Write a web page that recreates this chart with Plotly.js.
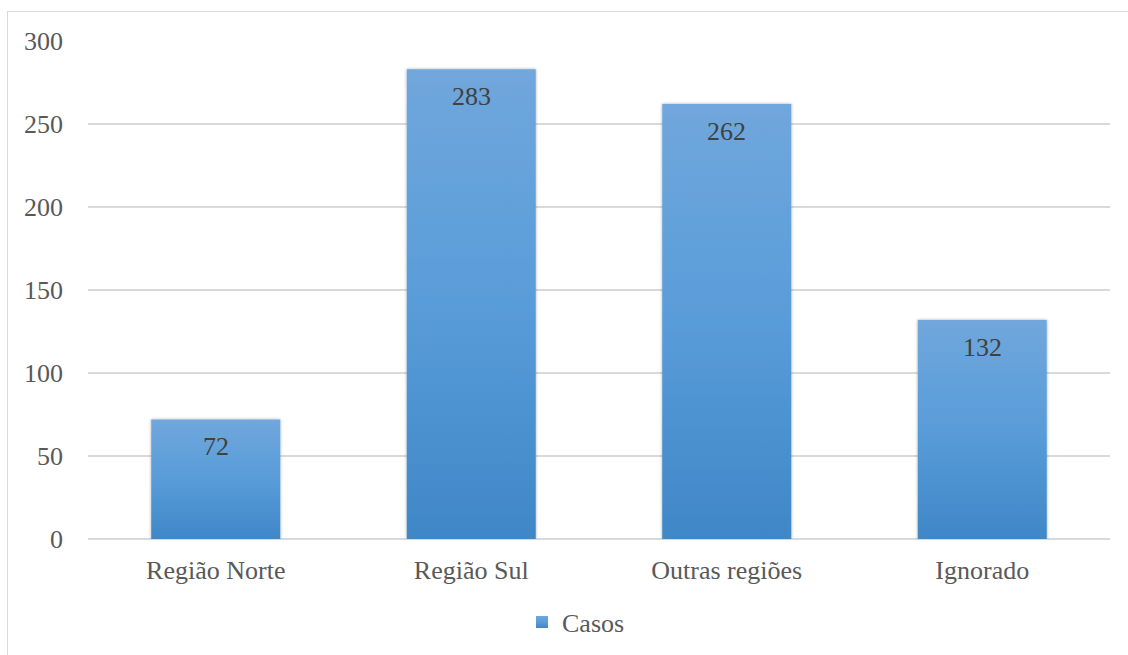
<!DOCTYPE html>
<html>
<head>
<meta charset="utf-8">
<script src="https://cdn.plot.ly/plotly-3.0.1.min.js"></script>
<style>
  html, body { margin: 0; padding: 0; background: #ffffff; overflow: hidden; }
  #frame { position: absolute; left: 7px; top: 11px; width: 1140px; height: 700px; border: 1.5px solid #d9d9d9; box-sizing: border-box; }
  #chart { position: absolute; left: 0; top: 0; width: 1128px; height: 655px; }
</style>
</head>
<body>
<div id="frame"></div>
<div id="chart"></div>
<script>
const categories = ["Região Norte", "Região Sul", "Outras regiões", "Ignorado"];
const casos = [72, 283, 262, 132];
const yTicks = [0, 50, 100, 150, 200, 250, 300];
const seriesName = "Casos";

const fontFamily = "Liberation Serif, Times New Roman, serif";

const trace = {
  type: "bar",
  x: categories,
  y: casos,
  name: seriesName,
  marker: { color: "#5a9bd6", line: { width: 0 } },
  hoverinfo: "x+y",
  showlegend: true
};

const annotations = categories.map((c, i) => ({
  x: c, y: casos[i], xref: "x", yref: "y",
  text: String(casos[i]), showarrow: false,
  yanchor: "top", yshift: -11,
  font: { family: fontFamily, size: 26, color: "#404040" }
}));

const layout = {
  width: 1128, height: 655,
  margin: { l: 88, r: 18, t: 41, b: 116, autoexpand: false },
  paper_bgcolor: "rgba(0,0,0,0)",
  plot_bgcolor: "rgba(0,0,0,0)",
  font: { family: fontFamily, size: 26, color: "#595959" },
  bargap: 0.495,
  xaxis: {
    type: "category", automargin: false,
    showgrid: false, zeroline: false, showline: false, ticks: "",
    ticklabelstandoff: 13,
    tickfont: { family: fontFamily, size: 26, color: "#595959" }
  },
  yaxis: {
    range: [0, 300], tickvals: yTicks, ticktext: yTicks.map(String), automargin: false,
    showgrid: true, gridcolor: "#d9d9d9", gridwidth: 1.5,
    zeroline: true, zerolinecolor: "#d9d9d9", zerolinewidth: 1.5,
    showline: false, ticks: "", ticklabelstandoff: 24,
    tickfont: { family: fontFamily, size: 26, color: "#595959" }
  },
  showlegend: true,
  legend: {
    orientation: "h", x: 0.4775, xanchor: "center",
    yref: "container", y: 0.086, yanchor: "top",
    font: { family: fontFamily, size: 26, color: "#595959" },
    itemwidth: 30, bgcolor: "rgba(0,0,0,0)"
  },
  annotations: annotations
};

function applyGradient() {
  const gd = document.getElementById("chart");
  const svgNS = "http://www.w3.org/2000/svg";
  if (!document.getElementById("barGrad")) {
    const holder = document.createElementNS(svgNS, "svg");
    holder.setAttribute("width", "0"); holder.setAttribute("height", "0");
    holder.style.position = "absolute";
    const defs = document.createElementNS(svgNS, "defs");
    const grad = document.createElementNS(svgNS, "linearGradient");
    grad.setAttribute("id", "barGrad");
    grad.setAttribute("x1", "0"); grad.setAttribute("y1", "0");
    grad.setAttribute("x2", "0"); grad.setAttribute("y2", "1");
    [["0", "#70a7dc"], ["0.5", "#599cd9"], ["1", "#3f87c7"]].forEach(function (s) {
      const st = document.createElementNS(svgNS, "stop");
      st.setAttribute("offset", s[0]); st.setAttribute("stop-color", s[1]);
      grad.appendChild(st);
    });
    defs.appendChild(grad);
    const filt = document.createElementNS(svgNS, "filter");
    filt.setAttribute("id", "barShadow");
    filt.setAttribute("x", "-10%"); filt.setAttribute("y", "-10%");
    filt.setAttribute("width", "120%"); filt.setAttribute("height", "120%");
    const ds = document.createElementNS(svgNS, "feDropShadow");
    ds.setAttribute("dx", "0"); ds.setAttribute("dy", "0");
    ds.setAttribute("stdDeviation", "1.5");
    ds.setAttribute("flood-color", "#000"); ds.setAttribute("flood-opacity", "0.35");
    filt.appendChild(ds);
    defs.appendChild(filt);
    holder.appendChild(defs);
    document.body.insertBefore(holder, document.body.firstChild);
  }
  gd.querySelectorAll("g.bars path").forEach(function (p) {
    p.style.setProperty("fill", "url(#barGrad)", "important");
    p.setAttribute("filter", "url(#barShadow)");
  });
  gd.querySelectorAll(".legendpoints path").forEach(function (p) {
    p.style.setProperty("fill", "url(#barGrad)", "important");
    p.style.setProperty("stroke", "none", "important");
  });
}

const pr = Plotly.newPlot("chart", [trace], layout, { displayModeBar: false, staticPlot: true });
applyGradient();
if (pr && pr.then) pr.then(applyGradient);
setTimeout(applyGradient, 0);
setTimeout(applyGradient, 100);
</script>
</body>
</html>
